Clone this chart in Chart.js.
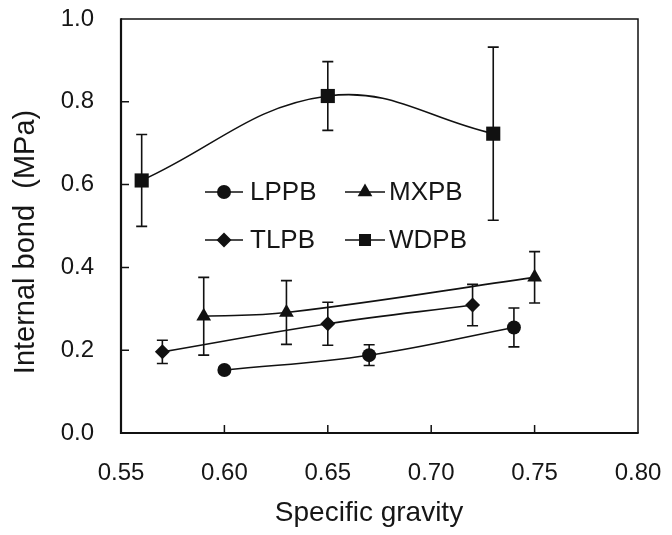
<!DOCTYPE html>
<html><head><meta charset="utf-8">
<script src="https://cdn.jsdelivr.net/npm/chart.js@4/dist/chart.umd.min.js"></script>
<style>html,body{margin:0;padding:0;background:#fff}#wrap{width:672px;height:535px}</style>
</head><body><div id="wrap"><canvas id="c" width="672" height="535"></canvas></div>
<script>
const seriesNames = ['LPPB', 'MXPB', 'TLPB', 'WDPB'];
const lppbX = [0.60, 0.67, 0.74];
const lppbY = [0.152, 0.188, 0.255];
const lppbErr = [0.008, 0.025, 0.047];
const mxpbX = [0.59, 0.63, 0.75];
const mxpbY = [0.282, 0.291, 0.376];
const mxpbErr = [0.094, 0.077, 0.062];
const tlpbX = [0.57, 0.65, 0.72];
const tlpbY = [0.196, 0.264, 0.309];
const tlpbErr = [0.028, 0.052, 0.050];
const wdpbX = [0.56, 0.65, 0.73];
const wdpbY = [0.610, 0.814, 0.723];
const wdpbErr = [0.111, 0.083, 0.209];
const xTickValues = [0.55, 0.60, 0.65, 0.70, 0.75, 0.80];
const yTickValues = [0.0, 0.2, 0.4, 0.6, 0.8, 1.0];
const xTitle = 'Specific gravity';
const yTitle = 'Internal bond  (MPa)';

const FONT = "'Liberation Sans', Arial, Helvetica, sans-serif";
const INK = '#111';
const TEXT = '#161616';
const styles = [
  {pointStyle: 'circle', radius: 7},
  {pointStyle: 'triangle', radius: 8.5},
  {pointStyle: 'rectRot', radius: 7.5},
  {pointStyle: 'rect', radius: 10}
];
const xs = [lppbX, mxpbX, tlpbX, wdpbX];
const ys = [lppbY, mxpbY, tlpbY, wdpbY];
const errs = [lppbErr, mxpbErr, tlpbErr, wdpbErr];

const datasets = seriesNames.map((name, i) => ({
  label: name,
  data: xs[i].map((x, j) => ({x: x, y: ys[i][j]})),
  errors: errs[i],
  borderColor: INK,
  backgroundColor: INK,
  borderWidth: 1.6,
  tension: 0.4,
  pointStyle: styles[i].pointStyle,
  pointRadius: styles[i].radius,
  pointHoverRadius: styles[i].radius,
  pointBackgroundColor: INK,
  pointBorderColor: INK,
  pointBorderWidth: 0,
  clip: false
}));

const errorBars = {
  id: 'errorBars',
  beforeDatasetsDraw(chart) {
    const ctx = chart.ctx, xS = chart.scales.x, yS = chart.scales.y;
    ctx.save();
    ctx.strokeStyle = INK;
    ctx.lineWidth = 1.6;
    chart.data.datasets.forEach(ds => {
      ds.data.forEach((p, j) => {
        const e = ds.errors[j];
        const px = xS.getPixelForValue(p.x);
        const top = yS.getPixelForValue(p.y + e);
        const bot = yS.getPixelForValue(p.y - e);
        ctx.beginPath();
        ctx.moveTo(px, top); ctx.lineTo(px, bot);
        ctx.moveTo(px - 5.5, top); ctx.lineTo(px + 5.5, top);
        ctx.moveTo(px - 5.5, bot); ctx.lineTo(px + 5.5, bot);
        ctx.stroke();
      });
    });
    ctx.restore();
  }
};

const frame = {
  id: 'frame',
  afterDraw(chart) {
    const ctx = chart.ctx, a = chart.chartArea, xS = chart.scales.x, yS = chart.scales.y;
    ctx.save();
    ctx.strokeStyle = INK;
    ctx.lineWidth = 1.5;
    ctx.beginPath();
    ctx.moveTo(a.left, a.top); ctx.lineTo(a.right, a.top); ctx.lineTo(a.right, a.bottom);
    ctx.stroke();
    ctx.lineWidth = 2.2;
    ctx.beginPath();
    ctx.moveTo(a.left, a.top - 0.7); ctx.lineTo(a.left, a.bottom); ctx.lineTo(a.right + 0.7, a.bottom);
    ctx.stroke();
    ctx.lineWidth = 1.5;
    ctx.beginPath();
    xTickValues.slice(1, -1).forEach(v => {
      const px = xS.getPixelForValue(v);
      ctx.moveTo(px, a.bottom); ctx.lineTo(px, a.bottom - 8);
    });
    yTickValues.slice(1, -1).forEach(v => {
      const py = yS.getPixelForValue(v);
      ctx.moveTo(a.left, py); ctx.lineTo(a.left + 8, py);
    });
    ctx.stroke();
    // axis titles
    ctx.fillStyle = TEXT;
    ctx.textAlign = 'center';
    ctx.textBaseline = 'middle';
    ctx.font = '28px ' + FONT;
    ctx.fillText(xTitle, 369, 513);
    ctx.save();
    ctx.translate(26, 242);
    ctx.rotate(-Math.PI / 2);
    ctx.font = '29px ' + FONT;
    ctx.fillText(yTitle, 0, 0);
    ctx.restore();
    ctx.restore();
  }
};

const legendInside = {
  id: 'legendInside',
  afterDraw(chart) {
    const ctx = chart.ctx;
    const cols = [{x0: 205, x1: 243, tx: 250}, {x0: 345, x1: 385, tx: 389}];
    const rows = [192, 240];
    ctx.save();
    ctx.font = '26px ' + FONT;
    ctx.textBaseline = 'middle';
    ctx.textAlign = 'left';
    seriesNames.forEach((name, i) => {
      const c = cols[i % 2], y = rows[Math.floor(i / 2)];
      ctx.strokeStyle = INK; ctx.fillStyle = INK; ctx.lineWidth = 1.6;
      ctx.beginPath(); ctx.moveTo(c.x0, y); ctx.lineTo(c.x1, y); ctx.stroke();
      const r = i === 3 ? 8.5 : styles[i].radius;
      Chart.helpers.drawPoint(ctx, {pointStyle: styles[i].pointStyle, radius: r, rotation: 0, borderWidth: 0}, (c.x0 + c.x1) / 2, y);
      ctx.fillStyle = TEXT;
      ctx.fillText(name, c.tx, y + 1);
    });
    ctx.restore();
  }
};

function zeroPad(s) { s.paddingTop = 0; s.paddingBottom = 0; s.paddingLeft = 0; s.paddingRight = 0; }

new Chart(document.getElementById('c'), {
  type: 'line',
  data: {datasets: datasets},
  plugins: [errorBars, frame, legendInside],
  options: {
    responsive: false,
    devicePixelRatio: 1,
    animation: false,
    events: [],
    layout: {padding: {left: 0, top: 19, right: 34, bottom: 0}},
    plugins: {legend: {display: false}, tooltip: {enabled: false}},
    scales: {
      x: {
        type: 'linear', min: 0.55, max: 0.80,
        afterBuildTicks: s => { s.ticks = xTickValues.map(v => ({value: v})); },
        ticks: {callback: v => v.toFixed(2), font: {family: FONT, size: 24}, color: TEXT, padding: 26, maxRotation: 0},
        grid: {display: false, drawTicks: false},
        border: {display: false},
        title: {display: false},
        afterFit: s => { s.height = 102; zeroPad(s); }
      },
      y: {
        type: 'linear', min: 0, max: 1.0,
        afterBuildTicks: s => { s.ticks = yTickValues.map(v => ({value: v})); },
        ticks: {callback: v => v.toFixed(1), font: {family: FONT, size: 24}, color: TEXT, padding: 27},
        grid: {display: false, drawTicks: false},
        border: {display: false},
        title: {display: false},
        afterFit: s => { s.width = 121; zeroPad(s); }
      }
    }
  }
});
</script></body></html>
